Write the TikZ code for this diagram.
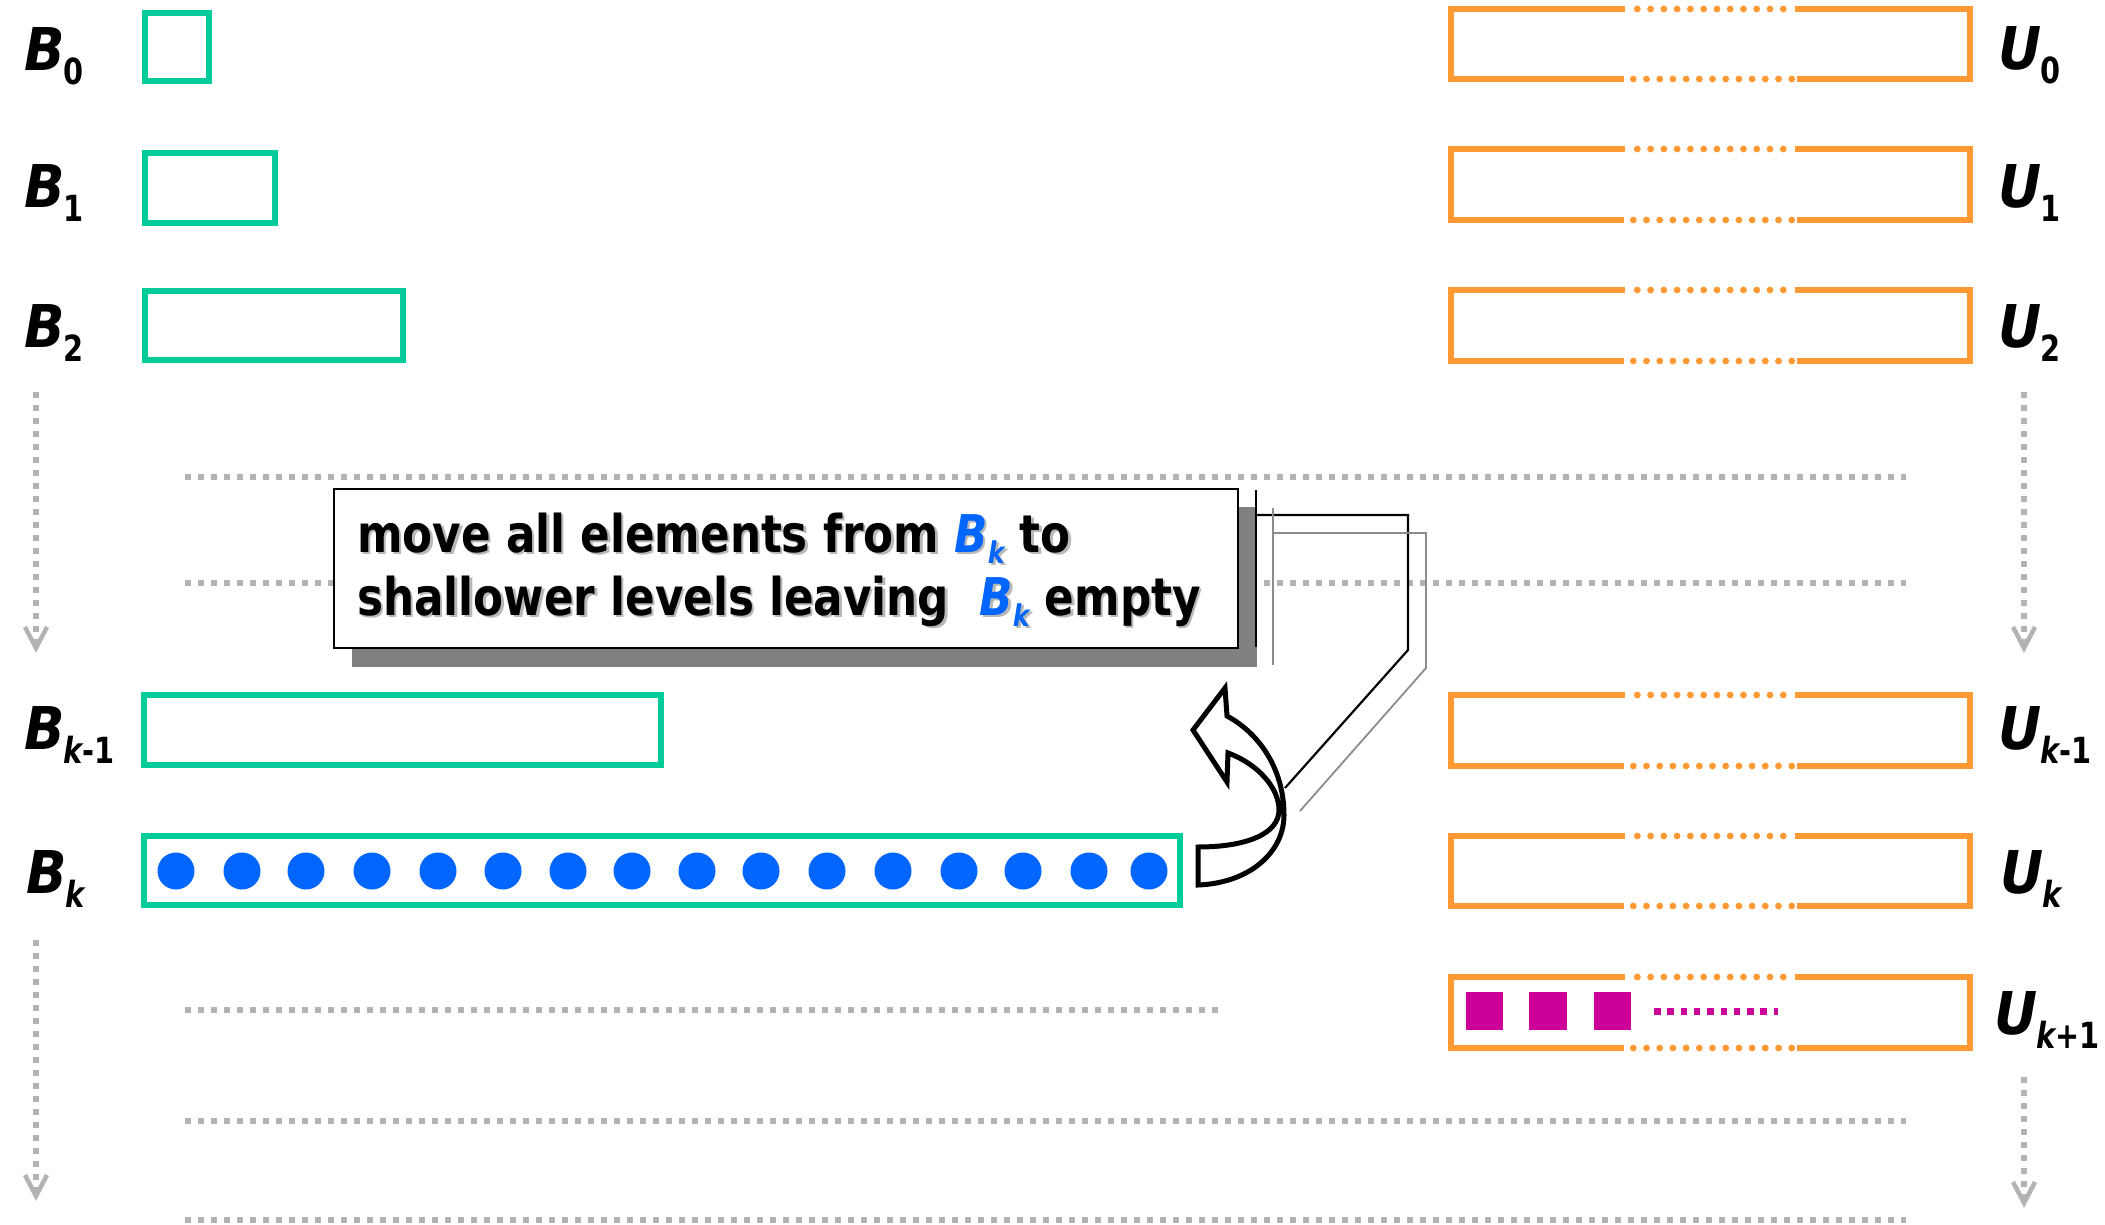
\documentclass[tikz,border=0pt]{standalone}
\usepackage{fontspec}
\setmainfont{Liberation Sans}
\newfontfamily\callfont{DejaVu Sans}[FakeStretch=0.84]
\newfontfamily\labfont{DejaVu Sans}[FakeStretch=0.9]
\newfontfamily\subfont{DejaVu Sans}[FakeStretch=0.8]
\definecolor{gboxc}{HTML}{00CC99}
\definecolor{oboxc}{HTML}{FF9933}
\definecolor{dotblue}{HTML}{0066FF}
\definecolor{magc}{HTML}{CC0099}
\definecolor{lgray}{HTML}{B3B3B3}
\definecolor{shadowc}{HTML}{808080}
\definecolor{tshadow}{HTML}{B8B8B8}
\definecolor{conngray}{HTML}{8C8C8C}
\newcommand\lab[2]{{\labfont\fontsize{59pt}{59pt}\selectfont\bfseries\itshape #1}\kern-1pt\raisebox{-14pt}{\subfont\fontsize{36pt}{36pt}\selectfont\bfseries #2}}
\newcommand\ik{{\itshape k}}
\newcommand\callbk[1]{{\color{#1}\itshape B\raisebox{-11pt}{\fontsize{30pt}{30pt}\selectfont k}}}
\newcommand\lineone[1]{move all elements from \callbk{#1} to}
\newcommand\linetwo[1]{shallower levels leaving\ \ \callbk{#1} empty}
\newcommand\ubox[2]{%
  \draw[obox] (1625,#1) -- (1451,#1) -- (1451,#2) -- (1624,#2);
  \draw[obox] (1795,#1) -- (1970,#1) -- (1970,#2) -- (1797,#2);
  \foreach \i in {0,...,11} {\fill[oboxc] (1637.3+13.27*\i,#1) circle (3.4);}
  \foreach \i in {0,...,12} {\fill[oboxc] (1633.3+13.2*\i,#2) circle (3.4);}
}
\begin{document}
\begin{tikzpicture}[x=1pt,y=-1pt,
  grayline/.style={draw=lgray, line width=5.5pt, dash pattern=on 5.5pt off 7.5pt},
  chev/.style={draw=lgray, line width=4.5pt, line join=miter},
  gbox/.style={draw=gboxc, line width=6.5pt},
  obox/.style={draw=oboxc, line width=6.5pt, line join=miter},
  lab/.style={anchor=base west, inner sep=0pt, text=black},
  calltxt/.style={anchor=base west, inner sep=0pt, font=\callfont\fontsize{52pt}{52pt}\selectfont\bfseries}]
\useasboundingbox (0,0) rectangle (2105,1225);
\fill[white] (0,0) rectangle (2105,1225);

% gray dotted horizontal lines
\coordinate (h1a) at (185,477);  \coordinate (h1b) at (1906,477);
\coordinate (h2a) at (185,583);  \coordinate (h2b) at (1906,583);
\coordinate (h3a) at (185,1010); \coordinate (h3b) at (1219,1010);
\coordinate (h4a) at (185,1121); \coordinate (h4b) at (1906,1121);
\coordinate (h5a) at (185,1220); \coordinate (h5b) at (1906,1220);
\draw[grayline] (h1a) -- (h1b);
\draw[grayline] (h2a) -- (h2b);
\draw[grayline] (h3a) -- (h3b);
\draw[grayline] (h4a) -- (h4b);
\draw[grayline] (h5a) -- (h5b);

% gray vertical dotted arrows
\coordinate (la1) at (36,392);   \coordinate (la1t) at (36,648);
\coordinate (la2) at (36,940);   \coordinate (la2t) at (36,1196);
\coordinate (ra1) at (2024,392); \coordinate (ra1t) at (2024,648);
\coordinate (ra2) at (2024,1077);\coordinate (ra2t) at (2024,1203);
\foreach \s/\t in {la1/la1t, la2/la2t, ra1/ra1t, ra2/ra2t}{
  \draw[grayline] (\s) -- ([yshift=4pt]\t);
  \draw[chev] ([xshift=-11pt,yshift=21pt]\t) -- (\t) -- ([xshift=11pt,yshift=21pt]\t);
}

% green B boxes
\draw[gbox] (145,13) rectangle (209,81);
\draw[gbox] (145,153) rectangle (275,223);
\draw[gbox] (145,291) rectangle (403,360);
\draw[gbox] (144,695) rectangle (661,765);
\draw[gbox] (144,836) rectangle (1180,905);
\foreach \x in {176,242,306,372,438,503,568,632,697,761,827,893,959,1023,1089,1149}{
  \fill[dotblue] (\x,871) circle (18.5);
}

% B labels
\node[lab] (lb0) at (24,71) {\lab{B}{0}};
\node[lab] (lb1) at (24,208) {\lab{B}{1}};
\node[lab] (lb2) at (24,347) {\lab{B}{2}};
\node[lab] (lbk1) at (24,749) {\lab{B}{\ik-1}};
\node[lab] (lbk) at (26,893) {\lab{B}{\ik}};

% orange U boxes
\ubox{9}{79}
\ubox{149}{220}
\ubox{290}{361}
\ubox{695}{766}
\ubox{836}{906}
\ubox{977}{1048}
\fill[magc] (1466,992) rectangle (1503,1030);
\fill[magc] (1529,992) rectangle (1567,1030);
\fill[magc] (1594,992) rectangle (1631,1030);
\coordinate (ma) at (1654,1011); \coordinate (mb) at (1778,1011);
\draw[magc, line width=7pt, dash pattern=on 6.5pt off 6.8pt] (ma) -- (mb);

% U labels
\node[lab] (lu0) at (1998,70) {\lab{U}{0}};
\node[lab] (lu1) at (1998,208) {\lab{U}{1}};
\node[lab] (lu2) at (1998,347) {\lab{U}{2}};
\node[lab] (luk1) at (1998,749) {\lab{U}{\ik-1}};
\node[lab] (luk) at (2000,893) {\lab{U}{\ik}};
\node[lab] (luk2) at (1994,1034) {\lab{U}{\ik+1}};

% callout box with shadow
\fill[shadowc] (352,507) rectangle (1257,667);
\draw[black, line width=2.5pt, fill=white] (334,489) rectangle (1238,648);
\node[calltxt, text=tshadow] (t1s) at (359.5,554.5) {\lineone{tshadow}};
\node[calltxt, text=tshadow] (t2s) at (359.5,617.5) {\linetwo{tshadow}};
\node[calltxt, text=black] (t1) at (357,552) {\lineone{dotblue}};
\node[calltxt, text=black] (t2) at (357,615) {\linetwo{dotblue}};

% callout leader lines
\coordinate (k1) at (1256,490); \coordinate (k2) at (1256,647);
\coordinate (k3) at (1256,515); \coordinate (k4) at (1408,515);
\coordinate (k5) at (1408,650); \coordinate (k6) at (1285,788);
\draw[black, line width=2.2pt] (k1) -- (k2);
\draw[black, line width=2.2pt, line join=miter] (k3) -- (k4) -- (k5) -- (k6);
\coordinate (g1) at (1273,508); \coordinate (g2) at (1273,665);
\coordinate (g3) at (1273,533); \coordinate (g4) at (1426,533);
\coordinate (g5) at (1426,668); \coordinate (g6) at (1300,811);
\draw[conngray, line width=1.8pt] (g1) -- (g2);
\draw[conngray, line width=1.8pt, line join=miter] (g3) -- (g4) -- (g5) -- (g6);

% curved block arrow
\draw[black, line width=5pt, fill=white, line join=miter]
  (1198,885) .. controls (1250,883) and (1284,852) .. (1284,815)
  .. controls (1284,772) and (1262,735) .. (1227,716)
  -- (1225,688) -- (1193,730) -- (1227,782) -- (1228,753)
  .. controls (1258,764) and (1279,788) .. (1279,810)
  .. controls (1279,834) and (1246,847) .. (1198,847) -- cycle;
\end{tikzpicture}
\end{document}
